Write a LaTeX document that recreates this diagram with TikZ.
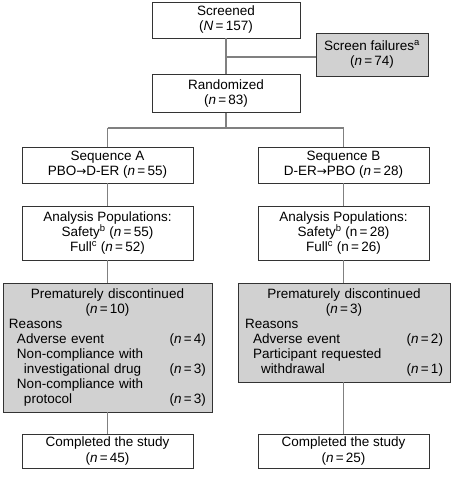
\documentclass[tikz,border=0pt]{standalone}
\usepackage{fontspec}
\setmainfont{Liberation Sans}
\newfontfamily\arrowfont{DejaVu Sans}
\newcommand{\midline}[1]{\mbox{}\hfill#1\hfill\mbox{}}
\newcommand{\nn}[1]{(\textit{n}\,=\,#1)}
\newcommand{\seqarrow}{{\arrowfont\fontsize{12}{15}\selectfont →}}
\begin{document}
\begin{tikzpicture}[x=1pt,y=-1pt,
  box/.style={draw=black!80, line width=0.9pt, fill=white, inner sep=0pt,
    align=center, font=\fontsize{13.5}{15}\selectfont},
  greybox/.style={box, fill=black!18},
  link/.style={draw=black!50, line width=1.2pt}]
\useasboundingbox (0,0) rectangle (451,478);
% top part
\node[box, minimum width=148, minimum height=36] (screened) at (226,20)
  {Screened\\(\textit{N}\,=\,157)};
\node[greybox, minimum width=112, minimum height=43] (fail) at (372,54.5)
  {Screen failures\textsuperscript{a}\\\nn{74}};
\node[box, minimum width=148, minimum height=38] (random) at (226,93.5)
  {Randomized\\\nn{83}};
% sequences
\node[box, minimum width=171, minimum height=36] (seqA) at (107.5,165)
  {Sequence A\\PBO\seqarrow D-ER \nn{55}};
\node[box, minimum width=171, minimum height=36] (seqB) at (343.5,165)
  {Sequence B\\D-ER\seqarrow PBO \nn{28}};
\node[box, minimum width=171, minimum height=54] (anaA) at (107.5,233)
  {Analysis Populations:\\Safety\textsuperscript{b} \nn{55}\\Full\textsuperscript{c} \nn{52}};
\node[box, minimum width=171, minimum height=54] (anaB) at (343.5,233)
  {Analysis Populations:\\Safety\textsuperscript{b} (n\,=\,28)\\Full\textsuperscript{c} (n\,=\,26)};
% discontinued
\node[greybox, minimum width=209, minimum height=129, text width=197, align=left] (discA) at (107.5,347.5)
  {\midline{Prematurely discontinued}\\
   \midline{\nn{10}}\\
   Reasons\\
   \hspace*{8pt}Adverse event\hfill\nn{4}\\
   \hspace*{8pt}Non-compliance with\\
   \hspace*{15pt}investigational drug\hfill\nn{3}\\
   \hspace*{8pt}Non-compliance with\\
   \hspace*{15pt}protocol\hfill\nn{3}};
\node[greybox, minimum width=212, minimum height=99, text width=198, align=left] (discB) at (344,332.5)
  {\midline{Prematurely discontinued}\\
   \midline{\nn{3}}\\
   Reasons\\
   \hspace*{8pt}Adverse event\hfill\nn{2}\\
   \hspace*{8pt}Participant requested\\
   \hspace*{16pt}withdrawal\hfill\nn{1}};
% completed
\node[box, minimum width=171, minimum height=34] (doneA) at (107.5,451)
  {Completed the study\\\nn{45}};
\node[box, minimum width=171, minimum height=34] (doneB) at (343.5,451)
  {Completed the study\\\nn{25}};
% connectors
\coordinate (fork) at (226,57);
\coordinate (split) at (226,128);
\coordinate (colA) at (107.5,128);
\coordinate (colB) at (343.5,128);
\draw[link] (screened) -- (random);
\draw[link] (fork) -- (fork -| fail.west);
\draw[link] (random) -- (split);
\draw[link] (colA) -- (colB);
\draw[link] (colA) -- (seqA);
\draw[link] (colB) -- (seqB);
\draw[link] (seqA) -- (anaA);
\draw[link] (seqB) -- (anaB);
\draw[link] (anaA) -- (discA);
\draw[link] (anaB) -- (discB.north -| anaB);
\draw[link] (discA) -- (doneA);
\draw[link] (discB.south -| doneB) -- (doneB);
\end{tikzpicture}
\end{document}
